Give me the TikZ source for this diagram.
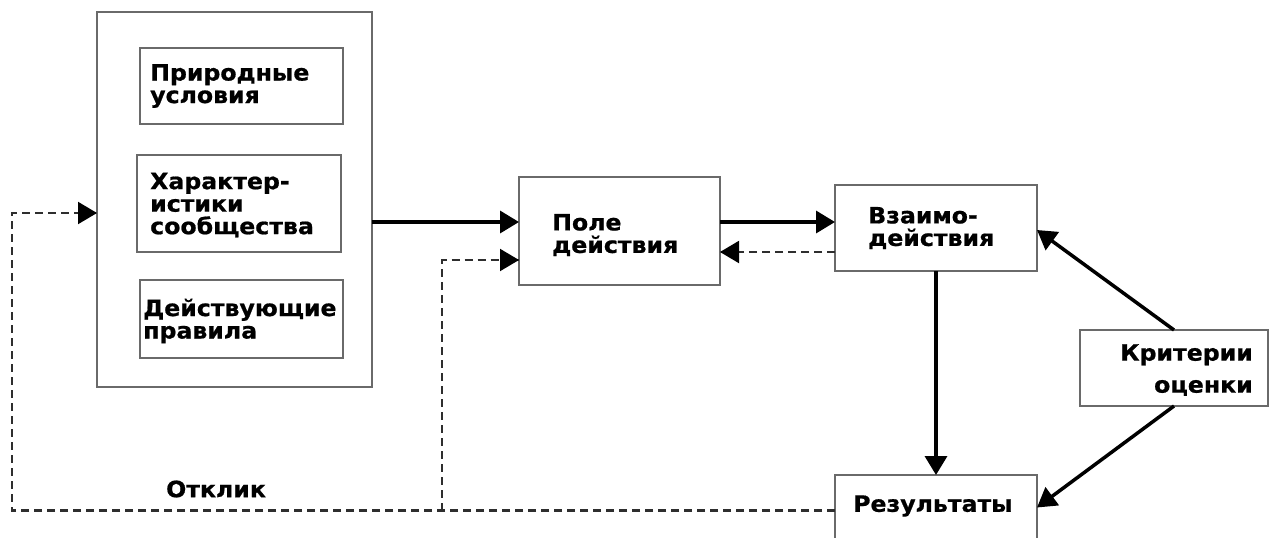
\documentclass[tikz,border=0pt]{standalone}
\usepackage{fontspec}
\setmainfont{DejaVu Sans}[FakeStretch=1.05, BoldFeatures={FakeBold=0.8}]
\usetikzlibrary{arrows.meta}
\definecolor{boxgray}{HTML}{6A6A6A}
\definecolor{dashgray}{HTML}{2E2E2E}
\begin{document}
\begin{tikzpicture}[x=1pt,y=-1pt,
  box/.style={draw=boxgray, line width=2.8pt, inner sep=0pt, outer sep=0pt},
  txt/.style={font=\fontsize{22.5}{22.5}\selectfont\bfseries, align=left, inner sep=0pt},
  arr/.style={line width=3.5pt, -{Triangle[length=19pt,width=22pt]}},
  darr/.style={line width=2.6pt, dashgray, dash pattern=on 8pt off 5pt},
  dtip/.style={-{Triangle[length=19pt,width=22pt,fill=black]}}]
\useasboundingbox (0,0) rectangle (1270,538);
\clip (0,0) rectangle (1270,538);
\fill[white] (0,0) rectangle (1270,538);
% left column
\node[box, minimum width=275pt, minimum height=375pt, anchor=north west] (outer) at (97,12) {};
\node[box, minimum width=203pt, minimum height=76pt, anchor=north west] (b1) at (140,48) {};
\node[txt, anchor=west] (t1) at (150,86) {Природные\\условия};
\node[box, minimum width=204pt, minimum height=97pt, anchor=north west] (b2) at (137,155) {};
\node[txt, anchor=west] (t2) at (150,205) {Характер-\\истики\\сообщества};
\node[box, minimum width=203pt, minimum height=78pt, anchor=north west] (b3) at (140,280) {};
\node[txt, anchor=west] (t3) at (143,321) {Действующие\\правила};
% middle
\node[box, minimum width=201pt, minimum height=108pt, anchor=north west] (pole) at (519,177) {};
\node[txt, anchor=west] (tp) at (552,235) {Поле\\действия};
\node[box, minimum width=202pt, minimum height=86pt, anchor=north west] (vz) at (835,185) {};
\node[txt, anchor=west] (tv) at (868,228) {Взаимо-\\действия};
\node[box, minimum width=188pt, minimum height=76pt, anchor=north west] (kr) at (1080,330) {};
\node[txt, align=right, anchor=east, font=\fontsize{22.5}{32}\selectfont\bfseries] (tk) at (1253,370) {Критерии\\оценки};
\node[box, minimum width=202pt, minimum height=75pt, anchor=north west] (res) at (835,475) {};
\node[txt, anchor=west] (tr) at (853,506) {Результаты};
\node[txt, anchor=west] (otk) at (166,489) {Отклик};
% coordinates
\coordinate (a1) at ([yshift=9pt]pole.west);
\coordinate (a2) at ([yshift=9pt]pole.east);
\coordinate (a3) at ([yshift=-24pt]vz.west);
\coordinate (rw) at ([yshift=2pt]res.west);
\coordinate (oin) at ([yshift=-13.5pt]outer.west);
\coordinate (pin) at ([yshift=-29pt]pole.west);
\coordinate (cl) at (12,0);
\coordinate (cm) at (442,0);
% solid arrows
\draw[arr] (outer.east |- a1) -- (a1);
\draw[arr] (a2) -- (vz.west |- a2);
\draw[arr] (vz.south) -- (res.north);
\draw[arr] (kr.north) -- ([yshift=-2pt]vz.east);
\draw[arr] (kr.south) -- ([yshift=5pt]res.east);
% dashed feedback
\draw[darr] (a3) -- (pole.east |- a3);
\draw[darr] (rw) -- (cl |- rw) -- (cl |- oin) -- (oin);
\draw[darr] (cm |- rw) -- (cm |- pin) -- (pin);
\draw[dtip, line width=2pt] ([xshift=-1pt]oin) -- (oin);
\draw[dtip, line width=2pt] ([xshift=-1pt]pin) -- (pin);
\draw[dtip, line width=2pt] ([xshift=1pt]pole.east |- a3) -- (pole.east |- a3);
\end{tikzpicture}
\end{document}
